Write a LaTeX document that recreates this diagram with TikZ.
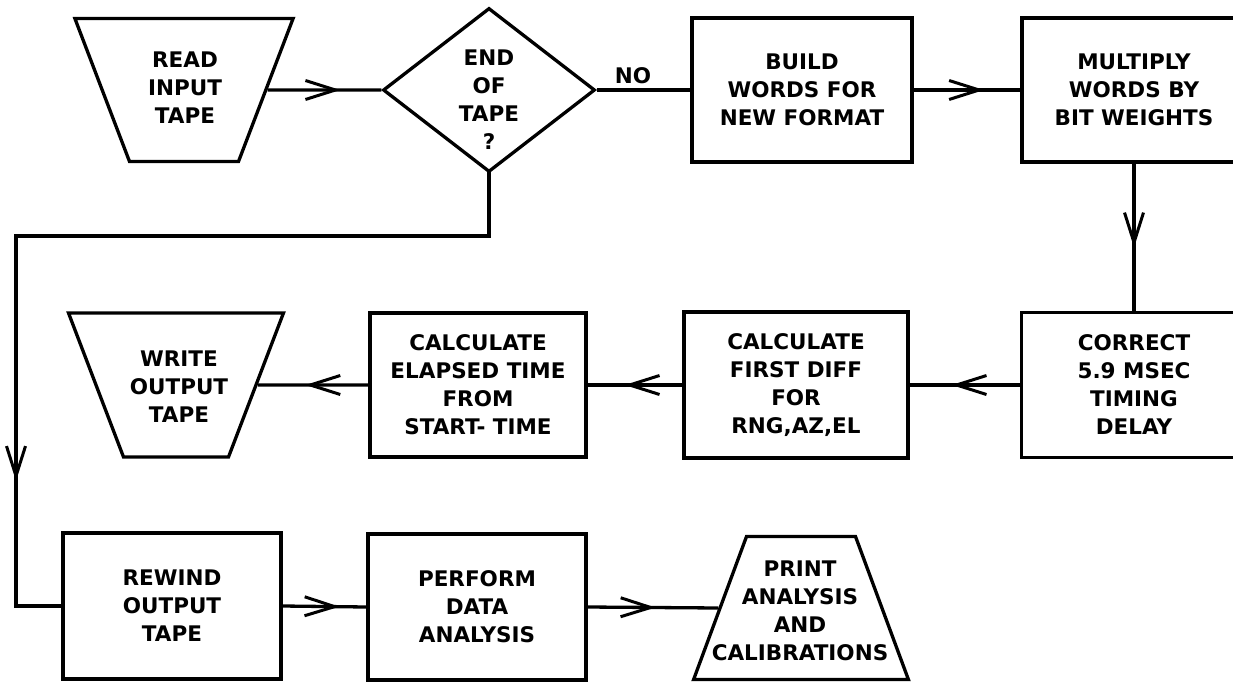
\documentclass[tikz,border=0pt]{standalone}
\usepackage{fontspec}
\setmainfont{DejaVu Sans}
\usetikzlibrary{shapes.geometric,arrows.meta,decorations.markings}
\newcommand{\tapebody}[2]{\rule{0pt}{#2}\hspace*{#1}}
\begin{document}
\begin{tikzpicture}[x=1pt,y=-1pt,
  font=\bfseries\fontsize{21.5}{28}\selectfont,
  ln/.style={line width=3.3pt},
  box/.style={draw, line width=3.3pt, rectangle, inner sep=0pt, align=center},
  tape/.style={draw, line width=3.3pt, trapezium, inner sep=0pt},
  txt/.style={inner sep=0pt, align=center},
  midarrow/.style={postaction={decorate}, decoration={markings, mark=at position #1 with {\arrow[line width=3pt]{Straight Barb[length=30pt,width=19pt]}}}}
]
\useasboundingbox (0,0) rectangle (1233,682);
\clip (0,0) rectangle (1233,682);

\node[tape, shape border rotate=180, trapezium left angle=69.1, trapezium right angle=69.1] (read) at (184,90) {\tapebody{109pt}{143pt}};
\node[txt] (readtxt) at (185,88) {READ\\INPUT\\TAPE};
\node[diamond, draw, line width=3.3pt, minimum width=212pt, minimum height=164pt, inner sep=0pt, aspect=1.29] (dec) at (489,90) {};
\node[txt] (dectxt) at (489,100) {END\\OF\\TAPE\\?};
\node[txt] (no) at (633,76) {NO};
\node[box, minimum width=220pt, minimum height=144pt] (build) at (802,90) {BUILD\\WORDS FOR\\NEW FORMAT};
\node[box, minimum width=224pt, minimum height=144pt] (mult) at (1134,90) {MULTIPLY\\WORDS BY\\BIT WEIGHTS};

\node[box, minimum width=225pt, minimum height=145pt] (corr) at (1134,385) {CORRECT\\5.9 MSEC\\TIMING\\DELAY};
\node[box, minimum width=224pt, minimum height=146pt] (first) at (796,385) {CALCULATE\\FIRST DIFF\\FOR\\RNG,AZ,EL};
\node[box, minimum width=216pt, minimum height=144pt] (elap) at (478,385) {CALCULATE\\ELAPSED TIME\\FROM\\START- TIME};
\node[tape, shape border rotate=180, trapezium left angle=69.1, trapezium right angle=69.1] (write) at (176,385) {\tapebody{105pt}{144pt}};
\node[txt] (writetxt) at (179,387) {WRITE\\OUTPUT\\TAPE};

\node[box, minimum width=218pt, minimum height=146pt] (rew) at (172,606) {REWIND\\OUTPUT\\TAPE};
\node[box, minimum width=218pt, minimum height=146pt] (perf) at (477,607) {PERFORM\\DATA\\ANALYSIS};
\node[tape, trapezium left angle=69.7, trapezium right angle=69.7] (print) at (801,608) {\tapebody{109pt}{143pt}};
\node[txt] (printtxt) at (800,611) {PRINT\\ANALYSIS\\AND\\CALIBRATIONS};

\draw[ln, midarrow=0.64] (read.east) -- (dec.west);
\draw[ln] (dec.east) -- (build.west);
\draw[ln, midarrow=0.66] (build.east) -- (mult.west);
\draw[ln, midarrow=0.57] (mult.south) -- (corr.north);
\draw[ln, midarrow=0.62] (corr.west) -- (first.east);
\draw[ln, midarrow=0.61] (first.west) -- (elap.east);
\draw[ln, midarrow=0.57] (elap.west) -- (write.east);
\coordinate (lp) at (16,236);
\draw[ln, line cap=rect] (dec.south) |- (lp);
\draw[ln, line cap=rect, midarrow=0.59] (lp) |- (rew.west);
\draw[ln, midarrow=0.68] (rew.east) -- (perf.west);
\draw[ln, midarrow=0.52] (perf.east) -- (print.west);
\end{tikzpicture}
\end{document}
